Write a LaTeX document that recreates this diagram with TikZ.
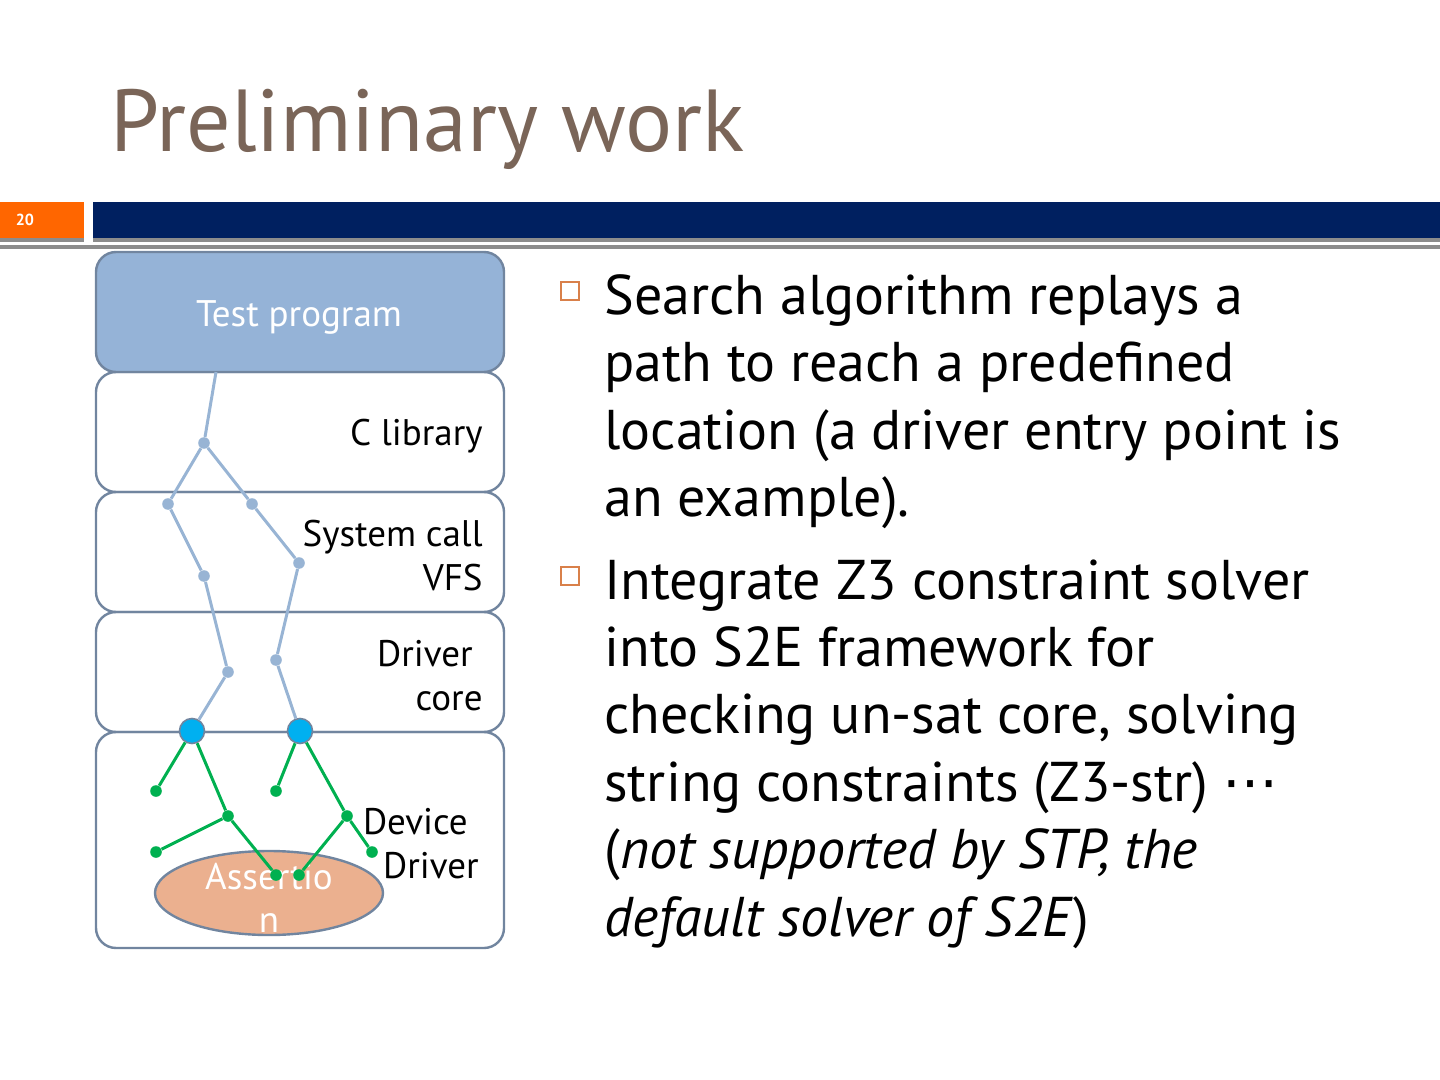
\documentclass[tikz,border=0pt]{standalone}
\usepackage{fontspec}
\setmainfont{PT Sans}
\newfontfamily\symfont{DejaVu Sans}
\usepackage{xcolor}
\usetikzlibrary{shapes.geometric,positioning}

\definecolor{titlebrown}{HTML}{7A6558}
\definecolor{navybar}{HTML}{002060}
\definecolor{orangebar}{HTML}{FF6600}
\definecolor{rulegray}{HTML}{8C8C8C}
\definecolor{layeredge}{HTML}{71859F}
\definecolor{testfill}{HTML}{95B3D7}
\definecolor{pathblue}{HTML}{98B4D4}
\definecolor{entryblue}{HTML}{00B0F0}
\definecolor{treegreen}{HTML}{00B050}
\definecolor{assertfill}{HTML}{EBB08F}
\definecolor{bulletorange}{HTML}{D9804A}

\begin{document}
\begin{tikzpicture}[
    x=0.5pt, y=-0.5pt,
    layer/.style={rectangle, rounded corners=10pt, draw=layeredge, line width=1.2pt, minimum width=204pt, minimum height=60pt, inner sep=0pt},
    lbl/.style={inner sep=0pt, font=\fontsize{18.5}{22}\selectfont, align=right},
    dotb/.style={circle, fill=pathblue, inner sep=0pt, minimum size=5.8pt},
    dotg/.style={circle, fill=treegreen, inner sep=0pt, minimum size=5.8pt},
    entry/.style={circle, draw=layeredge, line width=0.8pt, fill=entryblue, inner sep=0pt, minimum size=12.5pt},
    bline/.style={draw=pathblue, line width=1.5pt},
    gline/.style={draw=treegreen, line width=1.5pt},
    bullet/.style={rectangle, draw=bulletorange, line width=0.9pt, minimum size=9pt, inner sep=0pt},
    body/.style={inner sep=0pt, anchor=north west, align=left, font=\fontsize{28}{33.7}\selectfont}
]
\useasboundingbox (0,0) rectangle (1440,1080);

% header
\node[anchor=base west, inner sep=0pt, text=titlebrown, font=\fontsize{44}{50}\selectfont] (title) at (110,152) {Preliminary work};
\fill[rulegray] (0,238) rectangle (84,242);
\fill[rulegray] (93,238) rectangle (1440,242);
\fill[rulegray] (0,245) rectangle (1440,249);
\node[rectangle, fill=orangebar, minimum width=42pt, minimum height=18pt, inner sep=0pt] (pagebox) at (42,220) {};
\node[text=white, font=\fontsize{8}{10}\selectfont\bfseries] (pagenum) at (25,220) {20};
\node[rectangle, fill=navybar, minimum width=673.5pt, minimum height=18pt, inner sep=0pt] (navbar) at (766.5,220) {};

% layers
\node[layer, minimum height=108pt] (dev) at (300,840) {};
\node[layer] (drv) at (300,672) {};
\node[layer] (sys) at (300,552) {};
\node[layer] (clib) at (300,432) {};
\node[layer, fill=testfill] (test) at (300,312) {};

\node[lbl, text=white] (testtxt) at (299,317) {Test program};
\node[lbl, anchor=east] (clibtxt) at (483,436) {C library};
\node[lbl, anchor=east] (systxt) at (483,556) {System call\\VFS};
\node[lbl, anchor=east] (drvtxt) at (483,676) {Driver\hspace*{5pt}\\core};
\node[lbl, anchor=east] (devtxt) at (479,844) {Device\hspace*{5.5pt}\\Driver};

% assertion
\node[ellipse, draw=layeredge, line width=1.2pt, fill=assertfill, minimum width=114pt, minimum height=42pt, inner sep=0pt] (assert) at (269,893) {};
\node[lbl, align=center, text=white, font=\fontsize{18.5}{21.5}\selectfont] (asserttxt) at (269,898) {Assertio\\n};

% explored paths
\coordinate (p0) at (216,372);
\node[dotb] (pa) at (204,443) {};
\node[dotb] (pb) at (168,504) {};
\node[dotb] (pc) at (252,504) {};
\node[dotb] (pd) at (204,576) {};
\node[dotb] (pe) at (299,563) {};
\node[dotb] (pf) at (228,672) {};
\node[dotb] (pg) at (276,660) {};
\node[entry] (ea) at (192,731) {};
\node[entry] (eb) at (300,731) {};

\draw[bline] (p0) -- (pa);
\draw[bline] (pa) -- (pb);
\draw[bline] (pa) -- (pc);
\draw[bline] (pb) -- (pd);
\draw[bline] (pd) -- (pf);
\draw[bline] (pf) -- (ea);
\draw[bline] (pc) -- (pe);
\draw[bline] (pe) -- (pg);
\draw[bline] (pg) -- (eb);

% driver trees
\node[dotg] (ga) at (156,791) {};
\node[dotg] (gb) at (228,816) {};
\node[dotg] (gc) at (156,852) {};
\node[dotg] (gd) at (276,875) {};
\node[dotg] (ge) at (276,791) {};
\node[dotg] (gf) at (347,816) {};
\node[dotg] (gg) at (372,852) {};
\node[dotg] (gh) at (299,875) {};

\draw[gline] (ea) -- (ga);
\draw[gline] (ea) -- (gb);
\draw[gline] (gb) -- (gc);
\draw[gline] (gb) -- (gd);
\draw[gline] (eb) -- (ge);
\draw[gline] (eb) -- (gf);
\draw[gline] (gf) -- (gg);
\draw[gline] (gf) -- (gh);

% bullets
\node[bullet] (b1) at (570,291) {};
\node[bullet] (b2) at (570,576) {};
\node[body] (t1) at (604,274) {Search algorithm replays a\\path to reach a predefined\\location (a driver entry point is\\an example).};
\node[body] (t2) at (604,559) {Integrate Z3 constraint solver\\into S2E framework for\\checking un-sat core, solving\\string constraints (Z3-str) {\symfont ⋯}\\(\textit{not supported by STP, the}\\\textit{default solver of S2E})};
\end{tikzpicture}
\end{document}
